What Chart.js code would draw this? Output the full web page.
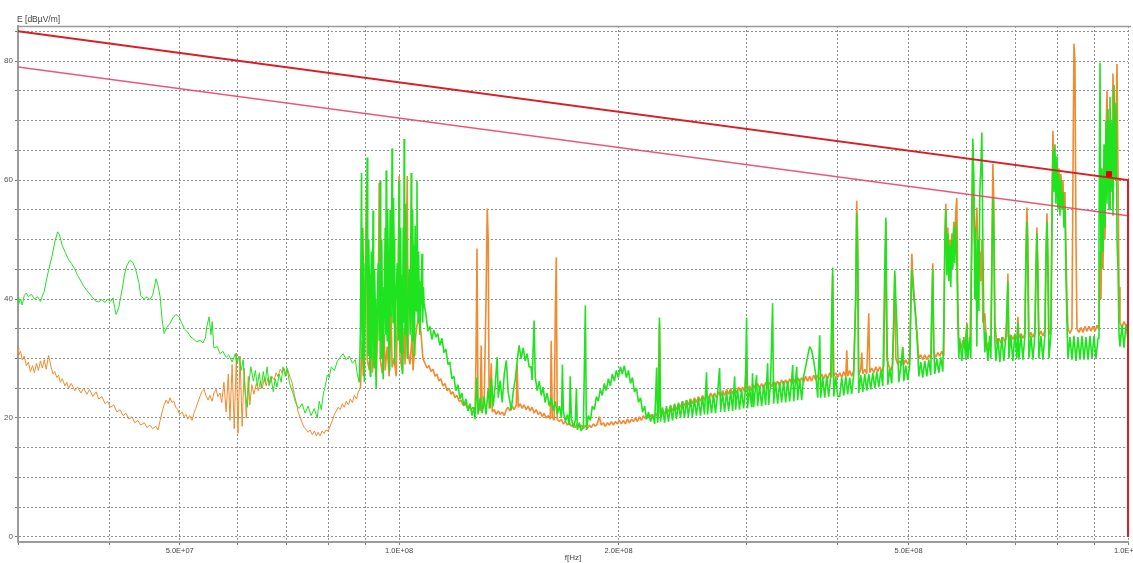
<!DOCTYPE html>
<html>
<head>
<meta charset="utf-8">
<script src="https://cdn.jsdelivr.net/npm/chart.js@4.4.1/dist/chart.umd.min.js"></script>
<style>
  html, body { margin: 0; padding: 0; background: #ffffff; overflow: hidden; }
  #wrap { width: 1133px; height: 563px; }
</style>
</head>
<body>
<div id="wrap"><canvas id="spectrum" width="1133" height="563"></canvas></div>
<script>
// Frequency axis (MHz): grid positions and the few labelled ones
const freqGrid = [30, 40, 50, 60, 70, 80, 90, 100, 200, 300, 400, 500, 600, 700, 800, 900, 1000];
const freqLabelValues = [50, 100, 200, 500, 1000];
const freqLabelTexts = ['5.0E+07', '1.0E+08', '2.0E+08', '5.0E+08', '1.0E+09'];

// Level axis (dBµV/m): grid every 5, labels every 20
const levelGrid = [0, 5, 10, 15, 20, 25, 30, 35, 40, 45, 50, 55, 60, 65, 70, 75, 80, 85];
const levelLabelValues = [0, 20, 40, 60, 80];

// Limit lines [MHz, dBµV/m]
const limitUpper = [[30, 85], [1000, 60], [1000, 0]];
const limitLower = [[30, 79], [1000, 54]];
const markerPoint = [[941.8, 61.0]];

// Measured trace, green [MHz, dBµV/m]
const greenTrace = [
[30.0,40.3],[30.06,39.2],[30.25,40.0],[30.4,39.0],[30.6,40.6],[30.8,41.0],[31.0,40.4],[31.3,40.8],[31.6,40.0],[31.9,40.4],[32.2,39.6],[32.4,40.5],[32.6,41.3],[32.8,43.0],[33.04,44.8],[33.4,47.2],[33.7,49.6],[34.0,51.3],[34.2,50.8],[34.5,49.0],[34.9,47.6],[35.2,46.6],[35.5,46.0],[35.9,45.0],[36.2,44.0],[36.6,43.0],[36.9,42.2],[37.3,41.4],[37.6,40.9],[38.0,40.2],[38.4,39.6],[38.7,39.5],[39.1,39.9],[39.5,39.4],[39.8,40.0],[40.2,39.6],[40.5,40.2],[40.7,38.6],[40.9,37.4],[41.25,38.6],[41.5,40.4],[41.8,42.4],[42.0,44.2],[42.3,45.6],[42.7,46.5],[43.1,46.2],[43.5,45.0],[43.95,42.8],[44.2,40.6],[44.7,40.0],[45.1,40.4],[45.5,39.9],[45.9,40.6],[46.4,43.4],[46.7,42.2],[47.0,40.4],[47.3,36.5],[47.6,34.2],[48.0,35.2],[48.5,35.9],[48.9,36.8],[49.4,37.4],[49.9,37.0],[50.4,35.8],[50.8,34.9],[51.3,34.4],[51.8,33.6],[52.3,33.2],[52.8,32.8],[53.3,33.1],[53.8,32.6],[54.2,33.4],[54.5,35.4],[54.85,37.0],[55.2,34.0],[55.4,36.2],[55.7,31.8],[56.3,32.0],[56.8,30.8],[57.3,31.2],[57.9,30.2],[58.4,30.6],[59.0,29.4],[59.6,30.8],[59.9,29.2],[60.3,30.4],[60.7,28.0],[61.1,29.8],[61.5,24.2],[61.9,21.8],[62.25,26.0],[62.6,28.6],[63.1,26.2],[63.5,28.0],[63.9,25.4],[64.3,27.6],[64.7,25.0],[65.1,27.8],[65.5,26.0],[65.9,28.6],[66.3,25.4],[66.7,27.0],[67.2,24.4],[67.6,26.6],[68.0,25.2],[68.45,27.4],[68.9,26.0],[69.3,28.6],[69.8,27.0],[70.2,28.4],[70.7,26.0],[71.1,25.0],[71.6,24.0],[72.0,22.8],[72.5,22.0],[72.9,21.6],[73.6,22.4],[74.3,20.8],[75.0,22.0],[75.7,20.4],[76.5,21.6],[77.2,20.0],[77.7,22.8],[78.2,21.4],[78.7,24.0],[79.2,25.4],[79.7,27.2],[80.2,26.8],[80.7,28.6],[81.5,28.0],[82.3,29.6],[83.0,30.2],[83.8,30.8],[84.6,29.8],[85.4,30.4],[86.3,29.2],[87.1,29.8],[87.6,27.4],[88.2,26.0],
[88.5,35.0],[88.8,61.2],[89.0,30.0],[89.15,52.0],[89.3,46.0],[89.45,33.0],[89.6,26.0],[89.9,41.0],[90.2,50.0],[90.4,63.8],[90.55,36.0],[90.7,30.5],[90.85,50.0],[91.0,44.0],[91.15,31.0],[91.3,27.0],[91.45,42.0],[91.6,48.0],[91.75,30.0],[91.9,38.0],[92.1,54.9],[92.25,35.0],[92.4,28.5],[92.55,45.0],[92.7,40.0],[92.85,30.0],[93.0,25.0],[93.3,38.0],[93.6,46.0],[93.9,33.0],[94.2,59.9],[94.35,38.0],[94.5,30.0],[94.65,50.0],[94.8,42.0],[94.95,31.0],[95.1,26.5],[95.4,40.0],[95.7,52.0],[95.85,34.0],[96.0,61.6],[96.15,40.0],[96.3,33.0],[96.45,55.0],[96.6,48.0],[96.75,32.0],[96.9,28.0],[97.05,44.0],[97.2,55.0],[97.5,37.0],[97.8,65.3],[97.95,42.0],[98.1,36.0],[98.25,57.0],[98.4,50.0],[98.55,33.0],[98.7,29.0],[99.0,40.0],[99.4,46.0],[99.7,33.0],[100.0,59.9],[100.15,38.0],[100.3,31.0],[100.45,52.0],[100.6,44.0],[100.8,32.0],[101.0,27.5],[101.15,40.0],[101.3,52.0],[101.45,36.0],[101.6,66.9],[101.75,42.0],[101.9,34.0],[102.05,56.0],[102.2,50.0],[102.4,35.0],[102.6,30.0],[102.9,40.0],[103.2,45.0],[103.55,34.0],[103.9,61.2],[104.05,40.0],[104.2,33.0],[104.35,55.0],[104.5,49.0],[104.7,36.0],[104.9,30.5],[105.05,45.0],[105.2,52.3],[105.5,38.0],[105.8,59.9],[106.0,42.0],[106.2,36.0],[106.35,48.0],[106.5,43.0],[106.65,38.0],[106.8,34.0],[107.15,40.0],[107.5,47.6],[107.65,40.0],[107.8,36.0],[108.0,42.0],[108.2,39.0],
[108.8,37.6],[109.5,34.6],[110.2,35.4],[110.9,33.2],[111.6,34.8],[112.3,33.6],[113.0,34.2],[113.7,32.2],[114.5,33.4],[115.2,31.0],[115.9,31.6],[116.7,29.0],[117.4,29.4],[118.1,26.6],[118.9,27.0],[119.6,24.6],[120.4,25.6],[121.2,23.2],[121.9,24.2],[122.7,22.0],[123.5,23.2],[124.3,21.2],[125.1,22.4],[125.9,20.4],[126.7,21.8],[127.1,19.8],[127.9,26.8],[128.3,20.6],[129.2,23.4],[130.0,20.8],[130.8,23.6],[131.6,20.6],[132.5,25.0],[133.3,21.6],[133.8,26.8],[134.6,22.0],[135.5,25.6],[136.3,30.2],[136.8,23.4],[137.6,26.3],[138.5,22.6],[139.4,27.4],[140.3,29.7],[141.1,24.4],[142.0,22.6],[142.5,21.3],[143.4,24.4],[144.3,26.4],[145.2,29.6],[146.1,32.2],[147.0,30.0],[148.0,31.8],[148.9,29.6],[149.8,30.8],[150.8,28.6],[151.7,28.6],[152.2,26.4],[153.2,36.4],
[153.7,27.0],[154.7,24.6],[155.7,26.2],[156.7,23.8],[157.6,25.2],[158.6,22.6],[159.6,24.2],[160.7,22.0],[161.7,23.4],[162.7,21.2],[163.8,22.8],[164.8,20.6],[165.9,22.0],[167.0,20.0],[167.5,29.0],[168.0,21.2],[169.1,19.4],[170.2,20.6],[171.2,18.8],[171.7,27.0],[172.3,20.0],[173.4,18.4],[174.5,19.6],[175.1,25.0],[175.6,18.0],[176.7,19.2],[177.8,17.8],[179.0,18.8],
[180.1,38.9],[180.7,18.0],[181.8,20.4],[183.0,19.6],[184.1,22.0],[185.3,21.4],[186.5,23.6],[187.6,22.8],[188.8,24.8],[190.0,23.8],[191.2,25.8],[192.4,24.6],[193.7,26.6],[194.9,25.4],[196.1,27.4],[197.4,26.2],[198.6,28.0],[199.9,26.8],[201.2,28.6],[202.4,27.4],[203.7,28.8],[205.0,26.8],[206.4,28.0],[207.7,25.8],[209.0,26.8],[210.3,24.4],[211.7,25.0],[213.0,22.6],[214.4,23.4],[215.8,21.0],[217.2,22.0],[218.5,19.8],[219.9,21.0],[221.3,19.4],[222.8,20.6],[224.2,19.0],[225.6,28.5],[226.3,19.2],[227.0,21.0],
[227.6,36.9],[228.4,19.4],[229.8,21.8],[231.3,19.2],[232.7,22.0],[234.2,19.4],[235.7,22.2],[237.2,19.6],[238.7,22.4],[240.2,19.8],[241.7,22.6],[243.2,20.0],[244.8,22.8],[246.3,20.0],[247.9,23.0],[249.4,20.2],[251.0,23.2],[252.6,20.2],[254.2,23.2],[255.8,20.4],[257.4,23.4],[259.1,20.4],[260.7,23.6],[262.4,20.6],[264.1,27.7],[264.9,20.6],[266.6,23.8],[268.3,20.8],[270.0,24.0],[271.7,20.8],[273.5,24.2],[275.2,28.4],[276.1,21.0],[277.8,24.2],[279.6,21.0],[281.4,24.4],[283.2,21.2],[285.0,24.6],[286.8,21.2],[288.6,27.0],[289.5,21.4],[291.3,24.8],[293.1,21.4],[295.0,24.8],[296.9,21.6],[298.7,25.0],[299.7,36.9],[300.6,21.6],[302.6,25.0],[304.5,21.8],[305.4,27.5],[306.4,21.8],[308.3,25.2],[309.3,27.2],[310.3,22.0],[312.3,25.4],[314.3,22.0],[316.3,25.6],[318.3,22.2],[320.3,29.2],[321.3,22.2],[323.3,25.8],[325.4,39.3],[326.4,22.4],[328.5,26.0],[330.6,22.4],[332.7,26.0],[334.8,22.6],[336.9,26.2],[339.1,22.6],[341.2,26.2],[343.4,22.8],[345.6,26.4],[346.7,28.9],[347.8,22.8],[350.0,26.4],[351.1,28.6],[352.2,23.0],[354.4,26.6],[356.7,23.0],[358.9,27.0],[361.2,28.6],[363.5,30.4],[365.8,32.0],[368.1,31.4],[370.5,29.6],[372.8,27.4],[375.2,23.4],[377.6,33.9],[378.8,23.4],[381.2,26.8],[383.6,23.4],[386.0,27.0],[388.5,23.6],[390.9,27.0],[392.2,38.0],[393.4,45.3],[394.7,23.6],[397.2,27.0],[399.7,23.6],
[402.2,23.6],[404.8,26.8],[407.4,23.8],[410.0,27.0],[412.5,24.0],[415.1,26.8],[417.7,24.0],[420.4,27.2],[423.1,40.0],[424.4,54.4],[425.8,46.0],[427.1,24.2],[429.9,27.2],[432.6,24.4],[435.4,27.4],[438.1,24.6],[440.9,27.4],[443.7,24.8],[446.5,27.6],[449.4,25.0],[452.2,27.8],[455.1,25.2],[458.0,28.0],[460.9,25.4],[463.9,46.0],[465.4,53.7],[466.8,36.0],[468.3,25.6],[471.1,28.2],[474.1,25.8],[477.1,36.0],[478.6,44.8],[480.2,40.0],[481.7,36.0],[483.2,31.0],[484.8,26.0],[487.8,28.6],[490.9,31.9],[492.5,26.2],[495.6,28.8],[498.7,26.4],[501.9,29.0],[503.5,38.0],[505.1,45.0],[506.7,42.6],[508.3,40.4],[509.9,38.8],[511.5,36.6],[513.1,34.0],[514.8,31.0],[516.4,27.0],[519.6,29.4],[522.9,26.8],[526.2,29.6],[529.6,27.0],[532.9,29.8],[536.3,27.2],[538.0,38.0],[539.7,45.0],[541.4,32.0],[543.1,27.4],[546.6,30.0],[550.0,27.6],[553.5,30.2],[557.1,27.8],[558.8,35.0],[560.6,48.0],[562.4,55.0],[564.2,44.0],[566.0,51.0],[567.7,43.0],[569.5,49.0],[571.3,42.0],[573.1,50.0],[575.0,45.0],[576.8,52.0],[578.6,46.0],[580.5,53.0],[582.3,47.0],[584.2,36.0],[586.0,30.0],[587.8,33.4],[591.6,29.6],[595.4,33.6],[599.2,29.8],[601.1,35.8],[603.0,30.0],[606.7,33.6],[608.7,30.0],[610.6,55.0],[612.5,67.0],[614.5,60.0],[616.4,40.0],[618.4,52.0],[620.3,32.0],[622.3,50.0],[624.3,38.0],[626.2,58.0],[628.2,62.0],[630.2,68.0],[632.2,50.0],[634.2,36.0],[636.2,31.0],[638.2,34.4],[642.3,29.6],[646.3,33.8],[648.4,30.0],[650.5,45.0],[652.5,57.0],[654.6,50.0],[656.7,33.0],[658.8,29.6],[662.9,33.4],[667.1,29.4],[671.3,33.6],[675.6,29.6],[679.8,33.8],[682.0,38.0],[684.2,43.0],[686.4,30.0],[690.7,33.8],[695.1,29.6],[699.5,34.2],[704.0,30.0],[706.2,36.0],[708.5,29.8],[713.0,34.0],[717.5,29.8],[722.0,33.8],[724.3,46.0],[726.6,53.0],[728.9,44.0],[731.2,30.0],[735.9,33.8],[740.5,29.8],[745.2,34.0],[747.6,44.0],[749.9,51.0],[752.3,42.0],[754.7,30.0],[759.5,33.8],[764.3,29.8],[769.2,34.0],[771.6,46.0],[774.1,53.0],[776.5,44.0],[779.0,30.0],[783.9,34.0],[786.4,52.0],[788.9,65.0],[791.4,58.0],[793.9,66.0],[796.4,56.0],[798.9,64.0],[801.5,55.0],[804.0,61.0],[806.5,54.0],[809.1,60.0],[811.7,55.0],[814.2,58.0],[816.8,52.0],[819.4,55.4],[822.0,44.0],[824.6,36.0],[827.2,30.0],[832.4,33.6],[837.7,29.8],[843.0,33.8],[848.4,29.6],[853.8,33.6],[859.2,29.8],[864.7,33.8],[870.2,29.8],[875.7,33.6],[881.3,29.8],[886.8,33.8],[892.5,30.0],[898.1,33.8],[903.8,30.0],[909.6,33.4],[912.4,50.0],[915.3,79.7],[918.2,45.0],[921.1,62.0],[924.1,48.0],[927.0,66.0],[929.9,52.0],[932.9,70.0],[935.9,56.0],[938.8,72.0],[941.8,55.0],[944.7,74.0],[947.7,58.0],[950.7,70.0],[953.7,54.0],[956.8,76.0],[959.8,60.0],[962.9,73.0],[965.9,50.0],[969.0,45.0],[972.0,34.0],[975.0,32.0],[981.2,35.6],[987.4,31.8],[993.7,35.8],[1000,33.0]
];

// Measured trace, orange [MHz, dBµV/m]
const orangeTrace = [
[30.0,31.9],[30.06,30.6],[30.25,31.2],[30.4,29.8],[30.6,30.4],[30.8,28.8],[31.0,29.4],[31.2,27.8],[31.4,28.8],[31.6,27.6],[31.8,29.2],[32.0,28.0],[32.2,29.6],[32.4,28.4],[32.6,29.8],[32.8,28.2],[33.04,30.5],[33.3,28.6],[33.5,27.4],[33.7,27.8],[33.9,26.8],[34.1,27.2],[34.3,26.0],[34.5,26.6],[34.8,25.4],[35.0,26.0],[35.2,25.0],[35.5,25.8],[35.9,24.6],[36.2,25.2],[36.6,24.2],[36.9,25.0],[37.3,24.0],[37.6,24.8],[38.0,23.6],[38.4,24.4],[38.7,23.2],[39.1,23.6],[39.5,22.4],[39.8,22.8],[40.2,21.8],[40.6,22.2],[41.0,21.0],[41.4,21.4],[41.8,20.4],[42.2,20.8],[42.6,19.8],[43.0,20.2],[43.4,19.2],[43.8,19.6],[44.2,18.8],[44.7,19.2],[45.1,18.4],[45.5,18.8],[45.9,18.2],[46.4,18.6],[46.7,18.0],[47.0,19.6],[47.3,21.0],[47.6,22.2],[47.9,23.0],[48.2,22.4],[48.5,23.4],[48.8,22.6],[49.1,22.8],[49.4,21.8],[49.7,21.4],[50.0,20.6],[50.4,21.0],[50.7,20.2],[51.0,20.6],[51.3,19.8],[51.6,20.4],[52.0,19.6],[52.3,20.8],[52.6,21.6],[53.0,22.8],[53.3,23.6],[53.6,24.4],[54.0,24.8],[54.3,23.8],[54.7,23.0],[55.0,23.8],[55.4,22.8],[55.7,24.2],[56.1,24.8],[56.4,23.6],[56.8,24.2],[57.1,22.6],[57.5,26.0],[57.9,21.0],[58.3,27.4],[58.6,19.6],[59.0,29.0],[59.4,18.2],[59.8,30.9],[60.1,17.4],[60.5,30.4],[60.9,18.6],[61.3,28.4],[61.7,20.0],[62.1,27.0],[62.4,22.2],[62.8,25.6],[63.2,24.0],[63.7,25.8],[64.1,24.6],[64.5,26.2],[64.9,25.0],[65.3,26.6],[65.7,25.4],[66.1,26.8],[66.5,25.8],[66.9,27.0],[67.4,26.4],[67.8,27.6],[68.2,27.0],[68.7,28.2],[69.1,27.6],[69.5,28.4],[70.0,27.2],[70.4,28.0],[70.9,26.8],[71.3,26.0],[71.8,24.0],[72.3,22.4],[72.7,21.0],[73.2,20.0],[73.6,19.2],[74.1,18.4],[74.6,18.0],[75.0,17.6],[75.5,18.0],[76.0,17.2],[76.5,17.8],[77.0,17.0],[77.4,17.6],[77.9,17.0],[78.4,17.8],[78.9,17.4],[79.4,18.0],[79.9,17.8],[80.4,18.6],[81.0,19.6],[81.5,20.6],[82.0,21.2],[82.5,21.8],[83.0,21.4],[83.6,22.4],[84.1,21.8],[84.6,22.8],[85.2,22.2],[85.7,23.2],[86.3,22.6],[86.8,23.8],[87.4,23.2],[87.9,24.4],[88.5,25.0],
[89.0,33.0],[89.3,27.0],[89.9,45.0],[90.2,58.6],[90.4,30.0],[91.0,28.0],[91.6,36.0],[91.9,27.6],[92.4,31.0],[93.0,27.0],[93.6,40.0],[93.9,59.6],[94.2,30.0],[94.8,27.5],[95.4,34.0],[95.7,28.0],[96.3,32.0],[96.9,27.0],[97.5,38.0],[97.8,28.5],[98.4,30.0],[99.1,27.0],[99.7,45.0],[100.0,60.7],[100.3,30.0],[101.0,28.0],[101.6,35.0],[101.9,29.0],[102.6,60.7],[102.9,31.0],[103.5,29.0],[104.2,34.0],[104.5,28.0],[105.2,33.0],[105.8,35.5],[106.5,37.6],[107.2,34.0],[107.8,30.0],[108.5,29.2],
[109.2,28.4],[109.9,28.8],[110.6,27.8],[111.3,28.2],[112.0,27.0],[112.7,27.4],[113.4,26.2],[114.1,26.6],[114.8,25.4],[115.6,25.8],[116.3,24.6],[117.1,25.0],[117.8,24.0],[118.5,24.4],[119.3,23.4],[120.0,23.8],[120.9,22.8],[121.6,23.0],[122.3,22.2],[123.1,22.6],[123.9,21.8],[124.7,22.0],[125.5,21.4],[126.3,21.8],[127.1,21.0],[127.5,30.0],[127.9,48.5],[128.3,22.0],[129.2,21.2],[129.6,32.2],[130.0,21.4],[130.8,22.0],[131.6,40.0],[132.1,55.2],[132.5,50.0],[132.9,21.6],[133.8,29.2],[134.2,21.0],[135.1,21.4],[135.9,20.6],[136.8,21.2],[137.6,20.6],[138.5,21.0],[139.4,20.4],[140.3,21.4],[141.1,21.8],[142.0,21.2],[142.9,22.0],[143.8,21.4],[144.8,22.2],[145.2,29.0],[145.7,21.8],[146.6,22.4],[147.5,21.6],[148.4,22.2],[149.4,21.4],[150.3,22.0],[151.2,21.2],[152.2,21.8],[153.2,20.8],[154.2,21.4],[155.2,20.6],[156.2,21.0],[157.2,20.2],[158.1,20.8],[159.1,20.0],[160.2,20.4],[161.2,19.8],[161.7,33.0],[162.2,20.2],[163.2,19.6],[163.8,38.0],[164.3,47.0],[164.8,19.8],[165.9,19.4],[167.0,19.8],[168.0,19.0],[169.1,19.4],[170.2,18.8],[171.2,19.2],[172.3,18.6],[173.4,19.0],[174.5,18.4],[175.6,19.0],[176.7,18.4],[177.8,18.8],[179.0,18.2],[180.1,18.8],[181.2,18.2],[182.4,18.8],[183.5,18.4],[184.7,19.0],[185.9,18.6],[187.0,19.0],[188.2,20.2],[189.4,18.8],[190.6,19.2],[191.8,18.6],[193.1,19.2],[194.3,18.8],[195.5,19.4],[196.8,18.8],[198.0,19.4],[199.3,19.0],[200.5,19.6],[201.8,19.0],[203.1,19.6],[204.4,19.0],[205.7,19.8],[207.0,19.2],[208.3,19.8],[209.7,19.4],[211.0,20.0],[212.3,19.4],[213.6,20.2],[215.0,19.6],[216.4,20.4],[217.8,19.8],[219.2,20.6],[220.5,20.0],[222.0,20.6],[223.4,20.0],[224.9,20.8],[226.3,20.2],
[227.6,35.9],[228.4,20.6],[229.8,21.4],[231.3,20.6],[232.7,21.6],[234.2,21.0],[235.7,22.0],[237.2,21.2],[238.7,22.2],[240.2,21.4],[241.7,22.4],[243.2,21.8],[244.8,22.8],[246.3,22.0],[247.9,23.0],[249.4,22.2],[251.0,23.2],[252.6,22.4],[254.2,23.4],[255.8,22.6],[257.4,23.6],[259.1,22.8],[260.7,23.8],[262.4,23.0],[264.1,24.0],[265.8,23.2],[267.5,24.2],[269.2,23.4],[270.9,24.2],[272.6,23.4],[274.4,24.4],[276.1,23.6],[277.8,24.6],[279.6,23.8],[281.4,24.8],[283.2,24.0],[285.0,25.0],[286.8,24.0],[288.6,25.0],[290.4,24.2],[292.2,25.2],[294.1,24.4],[296.0,25.2],[297.8,24.4],[299.7,30.0],[300.6,24.6],[302.6,25.4],[304.5,24.6],[306.4,25.6],[308.3,24.8],[310.3,25.8],[312.3,25.0],[314.3,25.8],[316.3,25.0],[318.3,26.0],[320.3,25.2],[322.3,26.0],[324.4,25.2],[326.4,26.2],[328.5,25.4],[330.6,26.2],[332.7,25.4],[334.8,26.4],[336.9,25.6],[339.1,26.4],[341.2,25.6],[343.4,26.6],[345.6,25.8],[347.8,26.6],[350.0,25.8],[352.2,26.8],[354.4,26.0],[356.7,26.8],[358.9,26.0],[361.2,27.0],[363.5,26.2],[365.8,27.0],[368.1,26.2],[370.5,27.2],[372.8,26.4],[375.2,27.2],[377.6,26.4],[380.0,27.4],[382.4,26.6],[384.8,27.4],[387.2,26.6],[389.7,27.6],[392.2,26.8],[393.4,44.0],[394.7,27.0],[397.2,27.6],[399.7,26.8],
[402.2,27.6],[404.8,26.8],[407.4,27.8],[410.0,27.0],[411.3,31.4],[412.5,27.0],[415.1,28.0],[417.7,27.0],[420.4,28.0],[423.1,40.0],[424.4,56.5],[425.8,50.0],[427.1,27.2],[429.9,28.2],[431.2,31.0],[432.6,27.4],[435.4,28.2],[438.1,27.4],[440.9,37.6],[442.3,27.6],[445.1,28.4],[448.0,27.6],[450.8,28.6],[453.7,27.8],[456.5,28.6],[459.4,27.8],[462.4,28.8],[465.4,53.0],[466.8,30.0],[469.7,28.8],[472.6,28.0],[475.6,29.0],[478.6,44.0],[480.2,30.0],[483.2,29.0],[486.3,29.6],[489.4,28.8],[490.9,31.9],[492.5,29.0],[495.6,29.8],[498.7,29.0],[501.9,30.0],[503.5,40.0],[505.1,47.6],[506.7,44.0],[509.9,39.0],[513.1,35.0],[516.4,30.0],[519.6,30.6],[522.9,29.8],[526.2,30.6],[529.6,29.8],[532.9,30.6],[536.3,30.0],[539.7,46.0],[541.4,31.0],[544.9,30.2],[548.3,31.0],[551.8,30.4],[555.3,31.2],[558.8,30.4],[560.6,50.0],[562.4,56.0],[564.2,49.0],[566.0,52.0],[567.7,46.0],[569.5,50.0],[571.3,47.0],[573.1,51.0],[575.0,49.0],[576.8,53.0],[578.6,50.0],[580.5,55.0],[582.3,57.0],[584.2,40.0],[586.0,33.0],[589.7,31.6],[593.5,33.0],[597.3,31.8],[601.1,36.0],[603.0,32.0],[606.7,31.6],[610.6,50.0],[612.5,66.0],[614.5,55.0],[616.4,48.0],[618.4,52.0],[620.3,55.4],[622.3,50.0],[624.3,46.0],[626.2,48.0],[628.2,43.0],[630.2,50.0],[632.2,36.0],[636.2,37.6],[640.2,31.4],[644.3,32.8],[648.4,32.0],[650.5,48.0],[652.5,62.7],[654.6,56.0],[656.7,36.0],[660.8,32.4],[665.0,33.4],[669.2,32.6],[673.5,33.6],[677.7,32.8],[682.0,33.8],[684.2,44.3],[686.4,33.0],[690.7,34.0],[695.1,33.2],[699.5,34.0],[704.0,33.2],[706.2,37.0],[708.5,33.4],[713.0,34.2],[717.5,33.4],[722.0,34.2],[724.3,48.0],[726.6,55.4],[728.9,50.0],[731.2,33.6],[735.9,34.4],[740.5,33.6],[745.2,34.4],[747.6,45.0],[749.9,52.0],[752.3,46.0],[754.7,33.8],[759.5,34.6],[764.3,33.8],[769.2,34.6],[771.6,47.0],[774.1,54.4],[776.5,48.0],[779.0,34.0],[783.9,34.8],[786.4,55.0],[788.9,68.3],[791.4,60.0],[793.9,64.0],[796.4,58.0],[798.9,63.0],[801.5,57.0],[804.0,62.0],[806.5,56.0],[809.1,61.0],[811.7,57.0],[814.2,60.0],[816.8,55.0],[819.4,58.0],[822.0,48.0],[824.6,40.0],[827.2,35.0],[832.4,34.2],[837.7,35.0],[840.4,60.0],[843.0,82.9],[845.7,80.0],[848.4,50.0],[851.1,35.0],[856.5,34.4],[862.0,35.2],[867.5,34.4],[873.0,35.4],[878.5,34.6],[884.0,35.4],[889.6,34.6],[895.3,35.4],[900.9,34.6],[906.7,35.6],[912.4,34.8],[915.3,48.0],[918.2,40.0],[921.1,55.0],[924.1,45.0],[927.0,62.0],[929.9,50.0],[932.9,68.0],[935.9,75.0],[938.8,60.0],[941.8,70.0],[944.7,55.0],[947.7,68.0],[950.7,62.0],[953.7,77.9],[956.8,65.0],[959.8,72.0],[962.9,70.0],[965.9,79.5],[969.0,60.0],[972.0,42.0],[975.0,36.0],[981.2,35.2],[987.4,36.2],[993.7,35.4],[1000,35.8]
];

const toXY = pairs => pairs.map(([x, y]) => ({ x, y }));
const FONT = '"Liberation Sans", Arial, sans-serif';

// Upper frame line and the level caption at the top left
const frameAndCaption = {
  id: 'frameAndCaption',
  beforeDatasetsDraw(chart) {
    const { ctx, chartArea } = chart;
    ctx.save();
    ctx.strokeStyle = '#9a9a9a';
    ctx.lineWidth = 1.5;
    ctx.beginPath();
    ctx.moveTo(chartArea.left, chartArea.top + 0.5);
    ctx.lineTo(chartArea.right + 3, chartArea.top + 0.5);
    ctx.stroke();
    ctx.restore();
  },
  afterDraw(chart) {
    const { ctx, chartArea } = chart;
    ctx.save();
    ctx.font = '8.5px ' + FONT;
    ctx.fillStyle = '#444';
    ctx.textAlign = 'left';
    ctx.textBaseline = 'middle';
    ctx.fillText('E [dBµV/m]', chartArea.left - 1, 20);
    ctx.restore();
  }
};

// Above the FM band the sweep is dense, so the trace is stroked a little heavier there
const denseFrom = 88;
const traceStyle = color => ({
  borderColor: color,
  borderWidth: 1,
  pointRadius: 0,
  tension: 0,
  borderJoinStyle: 'bevel',
  fill: false,
  segment: {
    borderWidth: ctx => (ctx.p0.parsed.x >= denseFrom ? 1.6 : 1)
  }
});

new Chart(document.getElementById('spectrum'), {
  type: 'line',
  data: {
    datasets: [
      {
        label: 'marker',
        data: toXY(markerPoint),
        showLine: false,
        pointStyle: 'rect',
        pointRadius: 3.5,
        pointBackgroundColor: '#e00000',
        pointBorderColor: '#e00000',
        clip: false
      },
      {
        label: 'limit',
        data: toXY(limitUpper),
        borderColor: '#d91e26',
        borderWidth: 2,
        pointRadius: 0,
        tension: 0,
        clip: { left: 0, top: 0, right: 3, bottom: 0 }
      },
      {
        label: 'limit margin',
        data: toXY(limitLower),
        borderColor: 'rgba(232,70,100,0.9)',
        borderWidth: 1.4,
        pointRadius: 0,
        tension: 0
      },
      Object.assign({ label: 'trace green', data: toXY(greenTrace) }, traceStyle('#1fe31f')),
      Object.assign({ label: 'trace orange', data: toXY(orangeTrace) }, traceStyle('#f28a2e'))
    ]
  },
  options: {
    responsive: false,
    animation: false,
    devicePixelRatio: 1,
    layout: { padding: { top: 26, right: 5, bottom: 0, left: 0 } },
    plugins: {
      legend: { display: false },
      tooltip: { enabled: false },
      title: { display: false }
    },
    scales: {
      x: {
        type: 'logarithmic',
        min: 30,
        max: 1000,
        afterBuildTicks: scale => { scale.ticks = freqGrid.map(v => ({ value: v })); },
        afterFit: scale => {
          scale.height = 21;
          scale.paddingLeft = 0;
          scale.paddingRight = 0;
        },
        grid: {
          color: '#8f8f8f',
          lineWidth: 1,
          drawTicks: true,
          tickLength: 3,
          tickColor: '#777',
          tickBorderDash: []
        },
        border: { display: true, color: '#9c9c9c', width: 2, dash: [2, 2] },
        ticks: {
          autoSkip: false,
          maxRotation: 0,
          minRotation: 0,
          padding: 1,
          color: '#444',
          font: { size: 7.5, family: FONT },
          callback: value => {
            const i = freqLabelValues.indexOf(value);
            return i >= 0 ? freqLabelTexts[i] : '';
          }
        },
        title: {
          display: true,
          text: 'f[Hz]',
          color: '#444',
          font: { size: 8, family: FONT },
          padding: { top: 0, bottom: 0 }
        }
      },
      y: {
        type: 'linear',
        min: -0.85,
        max: 85.9,
        afterBuildTicks: scale => { scale.ticks = levelGrid.map(v => ({ value: v })); },
        afterFit: scale => {
          scale.width = 18;
          scale.paddingTop = 0;
          scale.paddingBottom = 0;
        },
        grid: {
          color: '#8f8f8f',
          lineWidth: 1,
          drawTicks: true,
          tickLength: 3,
          tickColor: '#777',
          tickBorderDash: []
        },
        border: { display: true, color: '#9c9c9c', width: 2, dash: [2, 2] },
        ticks: {
          padding: 2,
          color: '#555',
          font: { size: 8, family: FONT },
          callback: value => (levelLabelValues.includes(value) ? String(value) : '')
        }
      }
    }
  },
  plugins: [frameAndCaption]
});
</script>
</body>
</html>
